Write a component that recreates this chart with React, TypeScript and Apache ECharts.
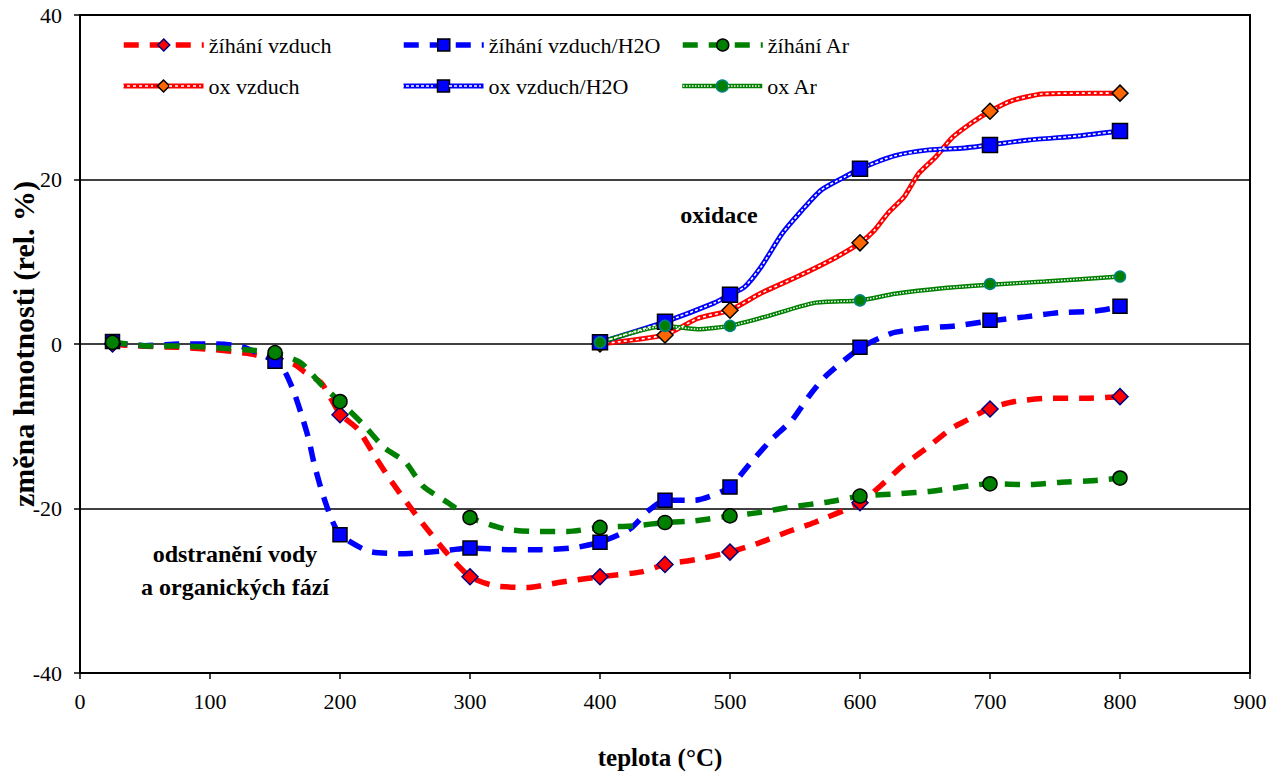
import { useEffect, useRef } from "react";
import * as echarts from "echarts";

type Pt = [number, number];

const FONT = "Liberation Serif";

// axis ranges: [min, max, interval]
const xRange = [0, 900, 100];
const yRange = [-40, 40, 20];

const seriesNames = [
  "žíhání vzduch",
  "žíhání vzduch/H2O",
  "žíhání Ar",
  "ox vzduch",
  "ox vzduch/H2O",
  "ox Ar",
];

// --- žíhání vzduch (red dashed) ---
const zihaniVzduchCurve: Pt[] = [
  [25, 0], [44, -0.25], [75, -0.4], [101, -0.65], [127, -1.1], [150, -1.8], [165, -2.5],
  [172, -3.3], [186, -4.8], [200, -8.5], [214, -10.4], [227, -13.7], [240, -16.8],
  [260, -21.1], [282, -25.4], [300, -28.3], [319, -29.4], [345, -29.6], [368, -29.0],
  [400, -28.3], [432, -27.7], [450, -26.8], [474, -26.2], [500, -25.3], [522, -24.2],
  [545, -22.8], [565, -21.7], [600, -19.3], [619, -16.8], [632, -14.9], [650, -12.8],
  [671, -10.2], [683, -9.2], [700, -7.8], [719, -7.0], [745, -6.6], [771, -6.6], [800, -6.4],
];
const zihaniVzduchMarkers: Pt[] = [
  [25, 0], [150, -1.8], [200, -8.6], [300, -28.3], [400, -28.3], [450, -26.8],
  [500, -25.3], [600, -19.3], [700, -7.9], [800, -6.4],
];

// --- žíhání vzduch/H2O (blue dashed) ---
const zihaniH2OCurve: Pt[] = [
  [25, 0.2], [50, -0.2], [76, 0], [102, 0], [124, -0.3], [150, -2.1], [157, -3.2],
  [164, -5.6], [170, -8.4], [176, -11.6], [180, -14.5], [186, -17.9], [193, -21.1],
  [200, -23.2], [222, -25.2], [248, -25.5], [277, -25.2], [300, -24.8], [329, -25.0],
  [355, -25.0], [379, -24.8], [400, -24.1], [423, -22.5], [437, -20.3], [450, -19.0],
  [473, -19.0], [499, -17.5], [516, -14.4], [532, -11.6], [548, -9.2], [560, -6.5],
  [573, -4.0], [600, -0.5], [624, 1.3], [647, 1.9], [673, 2.2], [700, 2.8], [727, 3.3],
  [753, 3.8], [781, 4.0], [800, 4.5],
];
const zihaniH2OMarkers: Pt[] = [
  [25, 0.3], [150, -2.1], [200, -23.2], [300, -24.8], [400, -24.1], [450, -19.0],
  [500, -17.4], [600, -0.4], [700, 2.9], [800, 4.6],
];

// --- žíhání Ar (green dashed) ---
const zihaniArCurve: Pt[] = [
  [25, 0.2], [55, -0.25], [80, -0.25], [108, -0.5], [135, -0.8], [150, -1.05], [170, -2.3],
  [186, -5.0], [200, -7.0], [218, -9.8], [234, -12.6], [250, -14.3], [264, -17.3],
  [283, -19.3], [300, -21.1], [327, -22.5], [350, -22.8], [375, -22.8], [400, -22.3],
  [427, -22.1], [450, -21.7], [473, -21.5], [500, -20.9], [522, -20.5], [547, -19.8],
  [576, -19.2], [600, -18.5], [630, -18.2], [655, -17.9], [700, -17.0], [730, -17.1],
  [755, -16.8], [781, -16.6], [800, -16.3],
];
const zihaniArMarkers: Pt[] = [
  [25, 0.2], [150, -1.05], [200, -7.0], [300, -21.1], [400, -22.3], [450, -21.7],
  [500, -20.9], [600, -18.5], [700, -17.0], [800, -16.3],
];

// --- ox vzduch (red textured) ---
const oxVzduchCurve: Pt[] = [
  [400, 0], [450, 1.1], [475, 3.1], [500, 4.1], [524, 6.2], [552, 8.2], [580, 10.4],
  [600, 12.3], [611, 13.8], [622, 16.0], [634, 17.9], [645, 20.7], [658, 22.7],
  [671, 25.1], [686, 26.9], [700, 28.3], [717, 29.6], [740, 30.4], [781, 30.5], [800, 30.5],
];
const oxVzduchMarkers: Pt[] = [
  [400, 0], [450, 1.1], [500, 4.1], [600, 12.3], [700, 28.3], [800, 30.5],
];

// --- ox vzduch/H2O (blue textured) ---
const oxH2OCurve: Pt[] = [
  [400, 0.2], [450, 2.7], [488, 5.0], [500, 6.0], [511, 6.9], [524, 9.4], [540, 13.4],
  [555, 16.2], [570, 18.7], [588, 20.3], [600, 21.3], [627, 22.9], [653, 23.6],
  [678, 23.8], [700, 24.2], [730, 24.8], [768, 25.3], [800, 25.9],
];
const oxH2OMarkers: Pt[] = [
  [400, 0.2], [450, 2.7], [500, 6.0], [600, 21.3], [700, 24.2], [800, 25.9],
];

// --- ox Ar (green textured) ---
const oxArCurve: Pt[] = [
  [400, 0.2], [450, 2.2], [475, 1.8], [500, 2.2], [527, 3.3], [565, 5.0], [600, 5.3],
  [627, 6.1], [665, 6.8], [700, 7.2], [742, 7.6], [800, 8.2],
];
const oxArMarkers: Pt[] = [
  [400, 0.2], [450, 2.2], [500, 2.2], [600, 5.3], [700, 7.3], [800, 8.2],
];

const annotations = ["oxidace", "odstranění vody\na organických fází"];

interface Def {
  curve: Pt[];
  markers: Pt[];
  color: string;
  dashed: boolean;
  width: number;
  symbol: string;
  size: number;
  fill: string;
  border: string;
  overlayDash: number[] | null;
  overlayWidth: number;
}

const defs: Def[] = [
  { curve: zihaniVzduchCurve, markers: zihaniVzduchMarkers, color: "#FF0000", dashed: true, width: 5.5,
    symbol: "diamond", size: 16, fill: "#FF0000", border: "#000080", overlayDash: null, overlayWidth: 0 },
  { curve: zihaniH2OCurve, markers: zihaniH2OMarkers, color: "#0000FF", dashed: true, width: 5.5,
    symbol: "rect", size: 14, fill: "#0000FF", border: "#000000", overlayDash: null, overlayWidth: 0 },
  { curve: zihaniArCurve, markers: zihaniArMarkers, color: "#008000", dashed: true, width: 5.5,
    symbol: "circle", size: 14, fill: "#008000", border: "#000000", overlayDash: null, overlayWidth: 0 },
  { curve: oxVzduchCurve, markers: oxVzduchMarkers, color: "#FF0000", dashed: false, width: 5,
    symbol: "diamond", size: 16, fill: "#FF6600", border: "#000000", overlayDash: [3, 3], overlayWidth: 1.6 },
  { curve: oxH2OCurve, markers: oxH2OMarkers, color: "#0000FF", dashed: false, width: 5,
    symbol: "rect", size: 15, fill: "#0000FF", border: "#000000", overlayDash: [3, 2], overlayWidth: 1.6 },
  { curve: oxArCurve, markers: oxArMarkers, color: "#008000", dashed: false, width: 4.5,
    symbol: "circle", size: 11, fill: "#008000", border: "#008080", overlayDash: [1.5, 1.5], overlayWidth: 1.5 },
];

// legend layout: column left positions and row centres
const legendCols = [121, 401, 680];
const legendRows = [45, 86];
const LEG_W = 80;
const LEG_H = 15;

export default function App() {
  const ref = useRef<HTMLDivElement>(null);

  useEffect(() => {
    if (!ref.current) return;
    const chart = echarts.init(ref.current, undefined, { renderer: "svg" });

    const series: any[] = [];
    defs.forEach((d, i) => {
      series.push({
        type: "line",
        name: seriesNames[i],
        data: d.curve,
        showSymbol: false,
        symbol: d.symbol,
        symbolSize: d.size,
        smooth: 0.2,
        itemStyle: { color: d.fill, borderColor: d.border, borderWidth: 1.5 },
        lineStyle: { color: d.color, width: d.width, type: d.dashed ? [15, 11] : "solid", cap: "butt" },
        z: 2,
        silent: true,
      });
    });
    defs.forEach((d, i) => {
      if (d.overlayDash) {
        series.push({
          type: "line",
          name: seriesNames[i] + " texture",
          data: d.curve,
          showSymbol: false,
          symbol: "none",
          smooth: 0.2,
          lineStyle: { color: "#FFFFFF", width: d.overlayWidth, type: d.overlayDash },
          z: 3,
          silent: true,
        });
      }
    });
    defs.forEach((d, i) => {
      series.push({
        type: "scatter",
        name: seriesNames[i] + " markers",
        data: d.markers,
        symbol: d.symbol,
        symbolSize: d.size,
        itemStyle: { color: d.fill, borderColor: d.border, borderWidth: 1.5, opacity: 1 },
        z: 4,
        silent: true,
      });
    });

    const legends = defs.map((d, i) => {
      const col = i % 3;
      const row = Math.floor(i / 3);
      return {
        data: [seriesNames[i]],
        left: legendCols[col],
        top: legendRows[row] - 11,
        padding: 0,
        itemWidth: LEG_W,
        itemHeight: LEG_H,
        selectedMode: false,
        textStyle: { fontFamily: FONT, fontSize: 22, color: "#000" },
        lineStyle: { width: d.width },
        itemStyle: { borderWidth: 1.5 },
      };
    });

    const graphics: any[] = [];
    defs.forEach((d, i) => {
      if (!d.overlayDash) return;
      const col = i % 3;
      const row = Math.floor(i / 3);
      const x0 = legendCols[col];
      const cy = legendRows[row];
      const mid = x0 + LEG_W / 2;
      [[x0, mid - 8], [mid + 8, x0 + LEG_W]].forEach(([a, b]) => {
        graphics.push({
          type: "line",
          z: 100,
          silent: true,
          shape: { x1: a, y1: cy, x2: b, y2: cy },
          style: { stroke: "#FFFFFF", lineWidth: d.overlayWidth, lineDash: d.overlayDash },
        });
      });
    });
    graphics.push({
      type: "text",
      x: 719,
      y: 215,
      z: 100,
      style: {
        text: annotations[0],
        fontFamily: FONT,
        fontSize: 24,
        fontWeight: "bold",
        fill: "#000",
        align: "center",
        verticalAlign: "middle",
      },
    });
    graphics.push({
      type: "text",
      x: 235,
      y: 537,
      z: 100,
      style: {
        text: annotations[1],
        fontFamily: FONT,
        fontSize: 24,
        fontWeight: "bold",
        fill: "#000",
        align: "center",
        verticalAlign: "top",
        lineHeight: 33,
      },
    });

    chart.setOption({
      animation: false,
      backgroundColor: "#FFFFFF",
      textStyle: { fontFamily: FONT },
      grid: {
        left: 80,
        right: 31,
        top: 15,
        bottom: 103,
        show: true,
        borderColor: "#000",
        borderWidth: 2,
        backgroundColor: "transparent",
        containLabel: false,
        outerBoundsMode: "none",
      },
      legend: legends,
      xAxis: {
        type: "value",
        min: xRange[0],
        max: xRange[1],
        interval: xRange[2],
        name: "teplota (°C)",
        nameLocation: "middle",
        nameGap: 72,
        nameMoveOverlap: false,
        nameTextStyle: {
          fontFamily: FONT, fontSize: 25, fontWeight: "bold", color: "#000", padding: [0, 10, 0, 0],
        },
        axisLine: { show: true, onZero: false, lineStyle: { color: "#000", width: 2 } },
        axisTick: { show: true, inside: false, length: 6, lineStyle: { color: "#000", width: 1.5 } },
        axisLabel: { color: "#000", fontFamily: FONT, fontSize: 22, margin: 17 },
        splitLine: { show: false },
      },
      yAxis: {
        type: "value",
        min: yRange[0],
        max: yRange[1],
        interval: yRange[2],
        name: "změna hmotnosti (rel. %)",
        nameLocation: "middle",
        nameRotate: 90,
        nameGap: 42,
        nameMoveOverlap: false,
        nameTextStyle: { fontFamily: FONT, fontSize: 30, fontWeight: "bold", color: "#000" },
        axisLine: { show: true, lineStyle: { color: "#000", width: 2 } },
        axisTick: { show: true, inside: false, length: 6, lineStyle: { color: "#000", width: 1.5 } },
        axisLabel: { color: "#000", fontFamily: FONT, fontSize: 22, margin: 18 },
        splitLine: { show: true, lineStyle: { color: "#000", width: 1.5 } },
      },
      series,
      graphic: graphics,
    });

    return () => chart.dispose();
  }, []);

  return (
    <div
      ref={ref}
      style={{ position: "fixed", left: 0, top: 0, width: 1281, height: 776, background: "#fff" }}
    />
  );
}
